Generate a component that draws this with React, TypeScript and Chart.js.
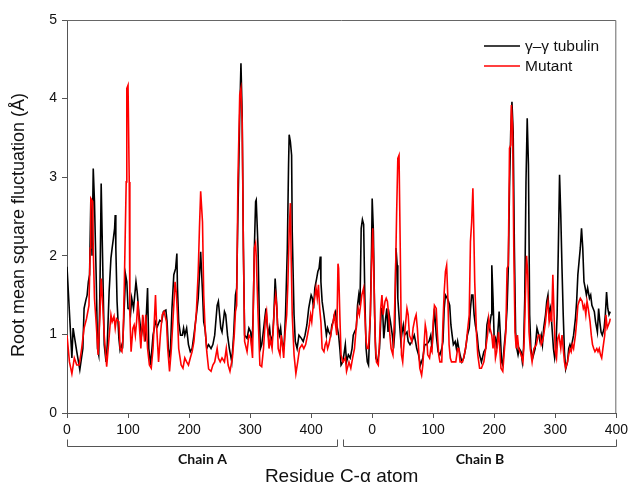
import React, { useEffect, useRef } from 'react';
import { Chart, registerables } from 'chart.js';

Chart.register(...registerables);

// ---- data (x = sequential residue index; chain B residue r sits at 500 + r) ----
const wtResidue = [0,8,10,16,21,26,28,31,33,35,37,39,41,43,45,48,50,52,54,56,58,61,64,66,69,72,74,76,78,79,80,82,85,87,90,91,93,96,98,100,102,104,106,109,113,115,118,122,125,128,132,134,137,141,145,148,152,155,158,162,164,166,169,172,175,178,180,181,183,186,189,191,193,196,199,202,205,208,212,215,217,219,222,224,226,229,232,236,239,242,246,248,250,252,254,258,260,263,266,270,273,276,278,280,283,285,287,289,291,295,298,301,303,305,307,309,310,313,315,317,319,321,324,326,328,330,332,334,337,339,341,343,345,348,350,352,354,356,358,361,363,364,366,368,369,372,374,377,380,384,387,390,393,396,398,400,402,404,406,409,411,413,415,416,418,421,423,425,427,429,432,434,436,438,440,442,445,447,449,452,456,458,461,464,467,469,471,474,476,478,480,482,484,486,488,490,492,494,497,499,500,502,504,506,509,512,515,517,519,522,524,526,528,530,533,535,537,539,541,542,545,547,549,551,553,557,559,562,565,569,571,573,576,579,583,586,589,593,596,598,600,602,605,608,611,614,616,618,620,623,625,627,629,631,633,636,638,640,642,644,647,650,653,656,659,661,663,665,667,669,672,674,676,679,683,686,688,690,692,695,696,698,700,702,704,707,708,710,712,714,716,719,721,723,725,727,729,731,733,735,737,739,741,744,746,748,750,752,754,756,758,760,763,767,770,773,775,777,779,781,784,786,788,790,792,794,797,799,801,803,805,807,809,811,813,815,817,820,822,824,826,828,830,833,835,837,839,841,843,845,847,849,851,853,856,858,860,862,864,866,869,871,873,875,877,880,882,884,886,888,890];
const wtRmsf = [1.86,0.70,1.08,0.78,0.55,0.82,1.33,1.44,1.50,1.67,1.76,2.71,2.00,3.11,2.69,1.67,0.82,0.74,1.59,2.92,2.10,0.87,0.65,0.87,1.54,1.97,2.10,2.22,2.35,2.52,2.10,1.42,0.95,0.80,0.87,0.82,1.20,1.76,1.67,1.33,1.33,1.25,1.46,1.33,1.67,1.54,1.25,0.99,1.16,0.91,1.59,0.82,0.61,0.99,1.16,1.10,1.18,1.16,1.29,1.31,1.16,0.82,0.70,1.33,1.76,1.84,2.03,1.59,1.16,0.99,0.99,1.08,0.99,1.08,0.87,0.78,0.82,0.99,1.25,1.46,1.76,2.05,1.54,1.16,1.08,0.82,0.87,0.82,0.87,0.99,1.37,1.42,1.25,1.08,1.03,1.29,1.25,0.99,0.82,0.65,0.99,1.50,1.59,2.52,3.79,4.45,3.79,2.10,0.99,0.95,1.08,1.03,0.82,1.25,2.10,2.69,2.71,2.10,1.25,0.82,0.87,0.99,1.20,1.33,1.12,0.99,1.08,0.91,0.99,1.25,1.71,1.46,1.12,0.99,1.08,0.91,0.82,0.91,1.25,2.10,3.16,3.54,3.45,3.28,2.31,1.25,0.91,0.82,0.99,0.95,0.91,0.99,1.12,1.33,1.42,1.50,1.46,1.33,1.59,1.71,1.80,1.84,1.99,1.67,1.42,1.25,1.12,0.99,1.08,1.03,0.99,1.12,1.16,1.25,1.29,1.12,0.99,0.82,0.61,0.65,0.87,0.65,0.74,0.70,0.82,0.99,1.03,1.08,1.37,1.50,1.37,2.35,2.46,2.40,1.46,0.82,0.65,0.61,1.25,2.10,2.73,2.31,1.25,0.70,0.65,0.82,1.33,1.33,0.95,1.20,1.33,1.03,1.25,1.16,0.99,0.82,1.03,2.10,1.88,1.46,1.12,0.91,1.03,1.12,0.99,1.03,0.91,0.87,0.91,0.99,0.91,0.82,0.74,0.61,0.70,0.87,0.87,0.91,0.99,0.82,1.08,1.33,0.99,0.78,0.74,0.82,0.91,1.33,1.50,1.46,1.42,1.37,1.12,0.99,0.87,0.91,0.82,0.91,0.82,0.74,0.65,0.70,0.82,0.99,1.08,1.33,1.50,1.50,1.25,1.12,0.99,0.82,0.74,0.65,0.78,0.82,1.12,1.20,1.08,1.25,1.88,1.46,0.91,0.95,0.82,1.16,1.29,0.99,0.65,0.61,0.82,1.08,1.33,1.84,2.86,3.58,3.96,3.58,2.10,1.03,0.82,0.74,0.82,0.78,0.65,0.82,1.46,2.94,3.75,3.16,1.25,0.82,0.70,0.82,1.08,0.99,0.91,0.99,0.87,1.08,1.25,1.42,1.50,1.25,1.33,1.16,0.82,0.70,0.82,1.25,2.10,3.03,2.52,1.84,1.25,0.78,0.56,0.65,0.82,0.87,0.82,0.91,0.99,1.20,1.42,1.76,1.93,2.10,2.35,2.10,1.67,1.59,1.50,1.59,1.46,1.50,1.37,1.33,1.29,1.16,1.03,1.33,1.16,1.03,0.99,1.08,1.25,1.54,1.33,1.25,1.29];

const mutResidue = [0,4,8,12,16,20,24,28,32,36,38,39,42,43,45,48,51,54,56,58,61,65,68,72,74,77,79,81,85,87,90,92,94,97,98,100,102,103,105,108,110,112,114,116,118,121,124,127,129,132,135,138,141,145,147,150,153,156,159,163,165,168,171,175,177,179,181,183,187,190,193,196,199,202,205,208,212,215,217,219,222,224,226,229,232,236,239,242,246,248,251,254,258,261,264,267,271,274,276,278,280,283,285,287,289,291,295,298,301,304,305,307,309,310,313,316,319,322,325,327,329,331,333,336,338,340,342,344,346,349,351,353,355,357,360,362,364,366,367,369,372,375,378,381,385,388,391,394,397,399,401,403,405,408,410,412,414,416,418,421,423,425,427,429,432,434,436,438,440,442,444,445,447,449,452,456,458,462,465,468,471,475,477,479,481,483,486,488,490,492,494,497,499,501,503,505,507,510,512,514,516,518,521,523,525,527,529,531,534,536,538,540,542,544,546,548,550,552,554,557,559,561,563,565,567,570,572,574,576,578,581,583,585,587,589,591,594,596,598,600,602,605,607,609,611,614,616,618,620,622,624,626,628,630,633,637,640,642,644,648,651,654,656,659,661,663,665,666,668,671,673,676,679,683,686,689,691,693,696,698,700,702,704,707,709,711,714,716,719,721,723,725,727,728,730,732,734,736,738,740,744,747,749,751,753,755,757,759,762,765,769,772,775,777,779,781,784,786,788,790,792,794,796,798,800,802,804,806,809,811,813,815,817,820,822,824,826,828,830,833,835,837,839,841,844,846,848,850,852,854,857,859,861,863,865,868,870,872,874,876,878,881,883,885,887,889,890];
const mutRmsf = [0.99,0.65,0.50,0.70,0.61,0.61,0.82,1.08,1.20,1.37,2.10,2.73,2.69,2.10,1.46,1.12,0.74,1.25,1.71,1.46,0.99,0.59,0.87,1.25,1.16,1.23,1.08,1.20,1.16,0.82,0.78,0.99,1.67,2.94,4.13,4.17,2.94,1.25,0.78,1.08,1.12,0.99,1.16,1.42,1.16,0.82,1.25,0.91,1.25,0.82,0.61,0.57,0.82,1.50,1.08,0.65,0.99,1.25,1.29,1.16,0.82,0.53,0.82,1.37,1.67,1.54,1.25,0.82,0.61,0.57,0.70,0.65,0.61,0.70,0.78,0.91,1.29,1.80,2.35,2.82,2.43,1.50,1.12,0.78,0.56,0.53,0.61,0.65,0.82,0.70,0.65,0.70,0.65,0.82,0.61,0.53,0.70,0.99,1.29,1.37,2.94,4.05,4.13,3.70,2.10,0.91,0.78,0.99,0.95,0.70,1.25,2.10,2.16,2.00,1.25,0.61,0.59,0.82,1.20,1.29,1.03,0.82,0.95,0.82,1.08,1.37,1.50,1.33,0.82,0.74,0.99,0.87,0.70,0.99,1.25,1.67,2.31,2.67,2.10,1.25,0.74,0.50,0.65,0.82,0.87,0.82,0.87,0.99,1.12,1.25,1.16,1.33,1.42,1.59,1.46,1.63,1.33,1.16,0.82,0.78,0.87,0.91,0.82,0.87,0.99,1.08,1.16,1.25,1.12,0.99,1.90,1.84,1.25,0.74,0.65,0.70,0.53,0.65,0.57,0.70,0.82,1.20,1.33,1.25,1.37,1.50,1.59,1.25,0.91,0.82,0.82,1.25,1.88,2.35,1.67,0.91,0.65,0.61,0.91,1.33,1.50,1.25,1.42,1.46,1.42,1.25,0.99,0.82,0.74,1.12,1.67,2.52,3.24,3.28,2.10,0.74,0.65,0.87,1.08,1.33,1.25,0.99,0.95,0.91,1.08,1.20,1.25,1.08,0.82,0.57,0.48,0.61,0.87,1.12,1.03,0.74,0.70,0.82,0.78,1.16,1.37,1.33,0.99,0.74,0.65,0.65,1.16,1.54,1.80,1.88,1.46,0.87,0.70,0.65,0.65,0.65,0.82,0.82,0.65,0.65,0.74,0.87,1.03,1.25,2.18,2.43,2.86,2.52,1.67,0.99,0.74,0.57,0.57,0.65,0.82,0.99,1.20,1.08,0.99,0.82,0.99,0.70,0.78,1.03,0.82,0.57,0.53,0.74,1.03,1.84,1.88,3.37,3.41,3.92,3.66,2.10,1.03,0.82,0.99,0.82,0.74,0.65,0.91,1.46,2.00,1.76,1.03,0.82,0.65,0.82,0.87,0.99,0.99,0.87,0.91,0.99,1.16,1.33,1.42,1.16,1.25,1.16,1.76,1.25,0.78,0.70,0.95,0.99,0.82,0.99,0.82,0.65,0.57,0.65,0.74,0.82,0.78,0.87,0.82,0.99,1.16,1.37,1.42,1.46,1.42,1.33,1.37,1.25,1.42,1.33,1.16,0.99,0.87,0.82,0.78,0.82,0.78,0.82,0.74,0.70,0.82,0.99,1.25,1.08,1.12,1.16,1.20];

const seriesNames = ['\u03B3\u2013\u03B3 tubulin', 'Mutant'];
const seriesColors = ['#000000', '#ff0000'];
const xTickValues = [0, 100, 200, 300, 400, 500, 600, 700, 800, 900];
const xTickLabels = ['0', '100', '200', '300', '400', '0', '100', '200', '300', '400'];
const chainNames = ['Chain A', 'Chain B'];
const chainStart = [0, 453];
const chainEnd = [442, 899];
const yTitle = 'Root mean square fluctuation (\u00C5)';
const xTitle = 'Residue C-\u03B1 atom';

const AXIS_COLOR = '#555555';
const TEXT_COLOR = '#111111';
const SANS = '"Liberation Sans", Arial, sans-serif';

const decorPlugin = {
  id: 'decor',
  afterDraw(chart: any) {
    const { ctx, chartArea, scales } = chart;
    const xs = scales.x;
    ctx.save();
    // frame top & right
    ctx.strokeStyle = '#666666';
    ctx.lineWidth = 1;
    ctx.beginPath();
    ctx.moveTo(chartArea.left, chartArea.top + 0.5);
    ctx.lineTo(chartArea.right - 0.5, chartArea.top + 0.5);
    ctx.lineTo(chartArea.right - 0.5, chartArea.bottom);
    ctx.stroke();

    // chain brackets
    ctx.strokeStyle = AXIS_COLOR;
    const by = 446.5;
    for (let i = 0; i < chainNames.length; i++) {
      const x0 = Math.round(xs.getPixelForValue(chainStart[i])) + 0.5;
      const x1 = Math.round(xs.getPixelForValue(chainEnd[i])) + 0.5;
      ctx.beginPath();
      ctx.moveTo(x0, by - 7);
      ctx.lineTo(x0, by);
      ctx.lineTo(x1, by);
      ctx.lineTo(x1, by - 7);
      ctx.stroke();
      ctx.fillStyle = TEXT_COLOR;
      ctx.font = 'bold 14px Lato, "Open Sans", sans-serif';
      ctx.textAlign = 'center';
      ctx.textBaseline = 'middle';
      ctx.fillText(chainNames[i], (x0 + x1) / 2, 459);
    }

    // axis titles
    ctx.fillStyle = TEXT_COLOR;
    ctx.textAlign = 'center';
    ctx.textBaseline = 'middle';
    ctx.font = '19px ' + SANS;
    ctx.fillText(xTitle, (chartArea.left + chartArea.right) / 2, 477);
    ctx.font = '18px ' + SANS;
    ctx.save();
    ctx.translate(19, 225);
    ctx.rotate(-Math.PI / 2);
    ctx.fillText(yTitle, 0, 0);
    ctx.restore();

    // legend
    ctx.font = '15.5px ' + SANS;
    ctx.textAlign = 'left';
    for (let i = 0; i < seriesNames.length; i++) {
      const ly = 46 + i * 20;
      ctx.strokeStyle = seriesColors[i];
      ctx.lineWidth = 1.5;
      ctx.beginPath();
      ctx.moveTo(484, ly);
      ctx.lineTo(520, ly);
      ctx.stroke();
      ctx.fillStyle = TEXT_COLOR;
      ctx.fillText(seriesNames[i], 525, ly + 1);
    }
    ctx.restore();
  },
};

export default function App() {
  const canvasRef = useRef<HTMLCanvasElement | null>(null);

  useEffect(() => {
    if (!canvasRef.current) return;
    const wt = wtResidue.map((x, i) => ({ x, y: wtRmsf[i] }));
    const mut = mutResidue.map((x, i) => ({ x, y: mutRmsf[i] }));
    const chart = new Chart(canvasRef.current, {
      type: 'line',
      data: {
        datasets: [
          { label: seriesNames[0], data: wt, borderColor: seriesColors[0], borderWidth: 1.6, pointRadius: 0, tension: 0, order: 2 },
          { label: seriesNames[1], data: mut, borderColor: seriesColors[1], borderWidth: 1.6, pointRadius: 0, tension: 0, order: 1 },
        ],
      },
      options: {
        animation: false,
        responsive: false,
        maintainAspectRatio: false,
        layout: { padding: { left: 0, right: 15, top: 20, bottom: 0 } },
        plugins: { legend: { display: false }, tooltip: { enabled: false } },
        scales: {
          x: {
            type: 'linear',
            min: 0,
            max: 900,
            afterBuildTicks: (s: any) => {
              s.ticks = xTickValues.map((v) => ({ value: v }));
            },
            afterFit: (s: any) => {
              s.height = 73;
            },
            ticks: {
              autoSkip: false,
              maxRotation: 0,
              padding: 4,
              color: TEXT_COLOR,
              font: { family: SANS, size: 14 },
              callback: (_v: any, i: number) => xTickLabels[i],
            },
            grid: { display: true, drawOnChartArea: false, drawTicks: true, tickLength: 5, color: AXIS_COLOR },
            border: { display: true, color: AXIS_COLOR, width: 1 },
          },
          y: {
            min: 0,
            max: 5,
            afterFit: (s: any) => {
              s.width = 67;
            },
            ticks: {
              stepSize: 1,
              padding: 5,
              color: TEXT_COLOR,
              font: { family: SANS, size: 14 },
            },
            grid: { display: true, drawOnChartArea: false, drawTicks: true, tickLength: 5, color: AXIS_COLOR },
            border: { display: true, color: AXIS_COLOR, width: 1 },
          },
        },
      },
      plugins: [decorPlugin],
    });
    return () => chart.destroy();
  }, []);

  return (
    <div style={{ position: 'fixed', left: 0, top: 0, width: 632, height: 486, background: '#ffffff' }}>
      <canvas ref={canvasRef} width={632} height={486} style={{ display: 'block' }} />
    </div>
  );
}
